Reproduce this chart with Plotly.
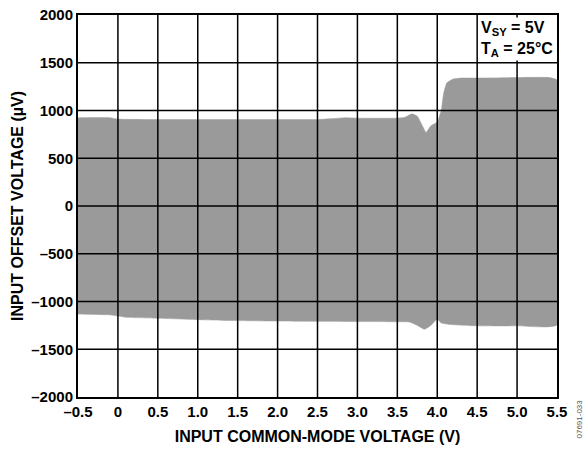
import plotly.graph_objects as go

# upper edge of the offset band (V, uV)
upper_v = [-0.5, -0.1, 0.0, 0.5, 1.0, 1.5, 2.0, 2.5, 2.7, 2.85, 3.0, 3.5, 3.6, 3.68, 3.75, 3.82, 3.86, 3.92, 4.0, 4.05, 4.08, 4.12, 4.2, 4.3, 4.5, 5.0, 5.4, 5.5]
upper_uv = [925, 925, 910, 905, 905, 905, 905, 905, 915, 925, 920, 920, 930, 965, 940, 830, 770, 840, 880, 1000, 1180, 1290, 1330, 1340, 1340, 1345, 1345, 1320]

# lower edge of the offset band
lower_v = [-0.5, -0.1, 0.1, 0.5, 1.0, 1.5, 2.0, 2.5, 3.0, 3.5, 3.65, 3.75, 3.84, 3.92, 4.0, 4.05, 4.15, 4.5, 5.0, 5.5]
lower_uv = [-1130, -1140, -1165, -1175, -1190, -1200, -1205, -1208, -1210, -1212, -1215, -1250, -1290, -1250, -1185, -1225, -1240, -1255, -1255, -1245]

x_ticks = [-0.5, 0, 0.5, 1.0, 1.5, 2.0, 2.5, 3.0, 3.5, 4.0, 4.5, 5.0, 5.5]
x_labels = ["–0.5", "0", "0.5", "1.0", "1.5", "2.0", "2.5", "3.0", "3.5", "4.0", "4.5", "5.0", "5.5"]
y_ticks = [-2000, -1500, -1000, -500, 0, 500, 1000, 1500, 2000]
y_labels = ["–2000", "–1500", "–1000", "–500", "0", "500", "1000", "1500", "2000"]

font = "Liberation Sans, Arial, sans-serif"
fill_col = "#9a9a9a"

fig = go.Figure()
fig.add_trace(go.Scatter(
    x=upper_v + lower_v[::-1], y=upper_uv + lower_uv[::-1],
    fill="toself", fillcolor=fill_col, line=dict(color=fill_col, width=0.5, shape="spline", smoothing=0.4),
    mode="lines", hoverinfo="skip", showlegend=False))

# grid drawn above the band, like the original
for xv in x_ticks[1:-1]:
    fig.add_shape(type="line", x0=xv, x1=xv, y0=-2000, y1=2000, layer="above",
                  line=dict(color="black", width=1.5))
for yv in y_ticks[1:-1]:
    fig.add_shape(type="line", x0=-0.5, x1=5.5, y0=yv, y1=yv, layer="above",
                  line=dict(color="black", width=1.5))

fig.add_annotation(xref="paper", yref="paper", x=0.996, y=0.996, xanchor="right", yanchor="top",
                   text="<b>V<sub>SY</sub> = 5V<br>T<sub>A</sub> = 25°C</b>", align="left",
                   showarrow=False, bgcolor="white", borderpad=1,
                   font=dict(family=font, size=16, color="black"))
fig.add_annotation(xref="paper", yref="paper", x=1.048, y=0.0, xanchor="center", yanchor="top",
                   text="07691-033", textangle=-90, showarrow=False,
                   font=dict(family=font, size=8, color="#555555"))

fig.update_xaxes(range=[-0.5, 5.5], tickvals=x_ticks, ticktext=x_labels, showgrid=False,
                 zeroline=False, showline=True, linecolor="black", linewidth=2, mirror=True,
                 ticks="", automargin=False,
                 tickfont=dict(family=font, size=15, color="black", weight="bold"),
                 title=dict(text="<b>INPUT COMMON-MODE VOLTAGE (V)</b>", standoff=12,
                            font=dict(family=font, size=16, color="black")))
fig.update_yaxes(range=[-2000, 2000], tickvals=y_ticks, ticktext=y_labels, showgrid=False,
                 zeroline=False, showline=True, linecolor="black", linewidth=2, mirror=True,
                 ticks="", automargin=False,
                 tickfont=dict(family=font, size=15, color="black", weight="bold"),
                 title=dict(text="<b>INPUT OFFSET VOLTAGE (µV)</b>", standoff=4,
                            font=dict(family=font, size=16, color="black")))

fig.update_layout(width=588, height=452, margin=dict(l=78, r=31, t=15, b=55),
                  plot_bgcolor="white", paper_bgcolor="white")

# drop the default 8px page margin so the figure fills the window
fig.write_html("out.html", config={"displayModeBar": False},
               post_script="document.body.style.margin='0';")
